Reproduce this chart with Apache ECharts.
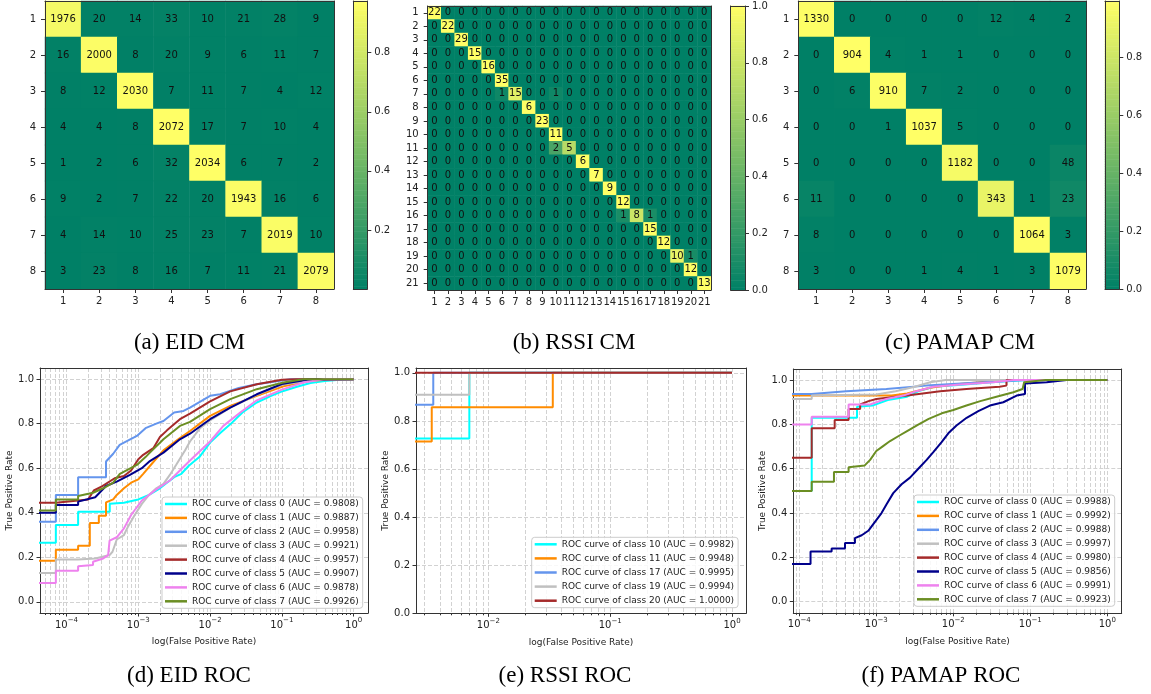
<!DOCTYPE html>
<html><head><meta charset="utf-8">
<script src="https://cdn.jsdelivr.net/npm/echarts@6/dist/echarts.min.js"></script>
<style>html,body{margin:0;padding:0;background:#fff}#c{width:1151px;height:694px}</style>
</head><body><div id="c"></div>
<script>
// ---------------- data ----------------
const EID_LABELS = ['1','2','3','4','5','6','7','8'];
const EID_CM = [
  [1976,20,14,33,10,21,28,9],
  [16,2000,8,20,9,6,11,7],
  [8,12,2030,7,11,7,4,12],
  [4,4,8,2072,17,7,10,4],
  [1,2,6,32,2034,6,7,2],
  [9,2,7,22,20,1943,16,6],
  [4,14,10,25,23,7,2019,10],
  [3,23,8,16,7,11,21,2079]
];
const RSSI_LABELS = ['1','2','3','4','5','6','7','8','9','10','11','12','13','14','15','16','17','18','19','20','21'];
const RSSI_CM = [
  [22,0,0,0,0,0,0, 0,0,0,0,0,0,0, 0,0,0,0,0,0,0],
  [0,22,0,0,0,0,0, 0,0,0,0,0,0,0, 0,0,0,0,0,0,0],
  [0,0,29,0,0,0,0, 0,0,0,0,0,0,0, 0,0,0,0,0,0,0],
  [0,0,0,15,0,0,0, 0,0,0,0,0,0,0, 0,0,0,0,0,0,0],
  [0,0,0,0,16,0,0, 0,0,0,0,0,0,0, 0,0,0,0,0,0,0],
  [0,0,0,0,0,35,0, 0,0,0,0,0,0,0, 0,0,0,0,0,0,0],
  [0,0,0,0,0,1,15, 0,0,1,0,0,0,0, 0,0,0,0,0,0,0],
  [0,0,0,0,0,0,0, 6,0,0,0,0,0,0, 0,0,0,0,0,0,0],
  [0,0,0,0,0,0,0, 0,23,0,0,0,0,0, 0,0,0,0,0,0,0],
  [0,0,0,0,0,0,0, 0,0,11,0,0,0,0, 0,0,0,0,0,0,0],
  [0,0,0,0,0,0,0, 0,0,2,5,0,0,0, 0,0,0,0,0,0,0],
  [0,0,0,0,0,0,0, 0,0,0,0,6,0,0, 0,0,0,0,0,0,0],
  [0,0,0,0,0,0,0, 0,0,0,0,0,7,0, 0,0,0,0,0,0,0],
  [0,0,0,0,0,0,0, 0,0,0,0,0,0,9, 0,0,0,0,0,0,0],
  [0,0,0,0,0,0,0, 0,0,0,0,0,0,0, 12,0,0,0,0,0,0],
  [0,0,0,0,0,0,0, 0,0,0,0,0,0,0, 1,8,1,0,0,0,0],
  [0,0,0,0,0,0,0, 0,0,0,0,0,0,0, 0,0,15,0,0,0,0],
  [0,0,0,0,0,0,0, 0,0,0,0,0,0,0, 0,0,0,12,0,0,0],
  [0,0,0,0,0,0,0, 0,0,0,0,0,0,0, 0,0,0,0,10,1,0],
  [0,0,0,0,0,0,0, 0,0,0,0,0,0,0, 0,0,0,0,0,12,0],
  [0,0,0,0,0,0,0, 0,0,0,0,0,0,0, 0,0,0,0,0,0,13]
];
const PAMAP_LABELS = ['1','2','3','4','5','6','7','8'];
const PAMAP_CM = [
  [1330,0,0,0,0,12,4,2],
  [0,904,4,1,1,0,0,0],
  [0,6,910,7,2,0,0,0],
  [0,0,1,1037,5,0,0,0],
  [0,0,0,0,1182,0,0,48],
  [11,0,0,0,0,343,1,23],
  [8,0,0,0,0,0,1064,3],
  [3,0,0,1,4,1,3,1079]
];
const COLORBAR_TICKS = [0, 0.2, 0.4, 0.6, 0.8, 1.0];
const TPR_TICKS = [0, 0.2, 0.4, 0.6, 0.8, 1.0];
const FPR_MAJOR = [1e-5, 1e-4, 1e-3, 1e-2, 1e-1, 1];
const FPR_MINOR = [
  2e-5,3e-5,4e-5,5e-5,6e-5,7e-5,8e-5,9e-5,
  2e-4,3e-4,4e-4,5e-4,6e-4,7e-4,8e-4,9e-4,
  2e-3,3e-3,4e-3,5e-3,6e-3,7e-3,8e-3,9e-3,
  0.02,0.03,0.04,0.05,0.06,0.07,0.08,0.09,
  0.2,0.3,0.4,0.5,0.6,0.7,0.8,0.9
];

// ROC curves: [false positive rate, true positive rate]; 1e-5 stands for fpr = 0 (clipped on the log axis)
const eidNames = [
  'ROC curve of class 0 (AUC = 0.9808)','ROC curve of class 1 (AUC = 0.9887)',
  'ROC curve of class 2 (AUC = 0.9958)','ROC curve of class 3 (AUC = 0.9921)',
  'ROC curve of class 4 (AUC = 0.9957)','ROC curve of class 5 (AUC = 0.9907)',
  'ROC curve of class 6 (AUC = 0.9878)','ROC curve of class 7 (AUC = 0.9926)'
];
const eidClass0 = [[1e-5,0.265],[7.1e-5,0.265],[7.1e-5,0.345],[1.45e-4,0.345],[1.45e-4,0.405],[4.0e-4,0.405],[4.0e-4,0.44],[6.3e-4,0.445],[1.0e-3,0.46],[1.41e-3,0.48],[2.0e-3,0.51],[2.51e-3,0.535],[3.16e-3,0.56],[3.98e-3,0.575],[5.01e-3,0.61],[7.08e-3,0.65],[0.01,0.715],[0.0141,0.76],[0.0191,0.797],[0.0282,0.85],[0.0447,0.895],[0.0708,0.925],[0.105,0.947],[0.158,0.965],[0.25,0.983],[0.398,0.992],[0.582,0.996],[1,1]];
const eidClass1 = [[1e-5,0.185],[7.1e-5,0.185],[7.1e-5,0.234],[1.45e-4,0.234],[1.45e-4,0.252],[2.11e-4,0.252],[2.11e-4,0.354],[2.82e-4,0.354],[2.82e-4,0.387],[3.55e-4,0.387],[3.55e-4,0.447],[4.47e-4,0.46],[5.01e-4,0.48],[6.31e-4,0.51],[7.94e-4,0.535],[1.0e-3,0.55],[1.17e-3,0.575],[1.45e-3,0.61],[2.24e-3,0.68],[3.8e-3,0.735],[5.25e-3,0.767],[0.01,0.835],[0.0191,0.88],[0.0447,0.925],[0.105,0.968],[0.25,0.993],[0.5,0.998],[1,1]];
const eidClass2 = [[1e-5,0.36],[7.1e-5,0.36],[7.1e-5,0.48],[1.45e-4,0.48],[1.45e-4,0.56],[3.55e-4,0.56],[3.55e-4,0.63],[4.47e-4,0.665],[5.5e-4,0.705],[9.55e-4,0.745],[1.26e-3,0.78],[1.78e-3,0.80],[2.24e-3,0.812],[3.16e-3,0.85],[4.27e-3,0.857],[5.25e-3,0.872],[0.01,0.925],[0.0138,0.932],[0.0251,0.96],[0.0447,0.977],[0.13,0.999],[1,1]];
const eidClass3 = [[1e-5,0.13],[7.1e-5,0.13],[7.1e-5,0.19],[1.45e-4,0.19],[2.51e-4,0.195],[3.98e-4,0.21],[4.37e-4,0.225],[5.01e-4,0.28],[6.31e-4,0.30],[7.24e-4,0.34],[8.91e-4,0.39],[1.12e-3,0.44],[1.41e-3,0.48],[1.78e-3,0.51],[2.24e-3,0.53],[2.75e-3,0.57],[3.39e-3,0.617],[4.47e-3,0.68],[5.25e-3,0.72],[7.24e-3,0.78],[0.01,0.815],[0.0191,0.872],[0.0447,0.93],[0.1,0.975],[0.25,0.995],[1,1]];
const eidClass4 = [[1e-5,0.445],[7.1e-5,0.445],[7.1e-5,0.45],[1.45e-4,0.455],[2.0e-4,0.46],[2.4e-4,0.50],[3.16e-4,0.52],[4.68e-4,0.555],[6.31e-4,0.565],[7.94e-4,0.59],[1.0e-3,0.64],[1.17e-3,0.66],[1.62e-3,0.69],[2.0e-3,0.74],[2.51e-3,0.77],[3.8e-3,0.82],[5.25e-3,0.845],[0.01,0.90],[0.0191,0.945],[0.0447,0.977],[0.1,0.997],[0.158,1.0],[1,1]];
const eidClass5 = [[1e-5,0.40],[7.1e-5,0.40],[7.1e-5,0.435],[1.45e-4,0.435],[1.45e-4,0.45],[2.51e-4,0.47],[3.55e-4,0.52],[5.01e-4,0.54],[7.64e-4,0.57],[1.12e-3,0.60],[1.45e-3,0.632],[2.24e-3,0.67],[3.8e-3,0.73],[5.25e-3,0.755],[0.01,0.82],[0.0191,0.872],[0.0447,0.932],[0.1,0.978],[0.224,0.997],[1,1]];
const eidClass6 = [[1e-5,0.085],[7.1e-5,0.085],[7.1e-5,0.14],[1.45e-4,0.14],[1.45e-4,0.16],[2.34e-4,0.165],[2.34e-4,0.18],[3.24e-4,0.195],[3.8e-4,0.21],[3.98e-4,0.275],[5.01e-4,0.29],[6.31e-4,0.33],[7.94e-4,0.39],[1.12e-3,0.455],[1.78e-3,0.505],[2.75e-3,0.545],[5.25e-3,0.635],[0.01,0.72],[0.0153,0.79],[0.0263,0.85],[0.0447,0.905],[0.1,0.953],[0.2,0.985],[0.38,0.999],[1,1]];
const eidClass7 = [[1e-5,0.41],[7.1e-5,0.41],[7.1e-5,0.46],[1.45e-4,0.46],[1.45e-4,0.475],[2.34e-4,0.49],[3.24e-4,0.51],[4.47e-4,0.535],[5.53e-4,0.575],[9.55e-4,0.615],[1.26e-3,0.65],[1.45e-3,0.67],[2.24e-3,0.73],[3.8e-3,0.79],[5.25e-3,0.808],[0.01,0.865],[0.0191,0.91],[0.0447,0.955],[0.105,0.985],[0.2,0.999],[1,1]];

const rssiNames = [
  'ROC curve of class 10 (AUC = 0.9982)','ROC curve of class 11 (AUC = 0.9948)',
  'ROC curve of class 17 (AUC = 0.9995)','ROC curve of class 19 (AUC = 0.9994)',
  'ROC curve of class 20 (AUC = 1.0000)'
];
const rssiClass10 = [[1e-5,0.727],[0.00698,0.727],[0.00698,1.0],[1,1]];
const rssiClass11 = [[1e-5,0.714],[0.00343,0.714],[0.00343,0.857],[0.0338,0.857],[0.0338,1.0],[1,1]];
const rssiClass17 = [[1e-5,0.867],[0.00353,0.867],[0.00353,1.0],[1,1]];
const rssiClass19 = [[1e-5,0.909],[0.00698,0.909],[0.00698,1.0],[1,1]];
const rssiClass20 = [[1e-5,1.0],[1,1]];

const pamapNames = [
  'ROC curve of class 0 (AUC = 0.9988)','ROC curve of class 1 (AUC = 0.9992)',
  'ROC curve of class 2 (AUC = 0.9988)','ROC curve of class 3 (AUC = 0.9997)',
  'ROC curve of class 4 (AUC = 0.9980)','ROC curve of class 5 (AUC = 0.9856)',
  'ROC curve of class 6 (AUC = 0.9991)','ROC curve of class 7 (AUC = 0.9923)'
];
const pamapClass0 = [[1e-5,0.50],[1.45e-4,0.50],[1.45e-4,0.83],[5.62e-4,0.83],[5.62e-4,0.88],[8.91e-4,0.885],[1.41e-3,0.91],[2.51e-3,0.925],[3.55e-3,0.95],[5.62e-3,0.97],[0.0141,0.98],[0.0316,0.99],[0.0891,1.0],[1,1]];
const pamapClass1 = [[1e-5,0.93],[1.58e-3,0.93],[2.51e-3,0.94],[5.01e-3,0.965],[0.01,0.98],[0.0316,0.995],[0.0398,1.0],[1,1]];
const pamapClass2 = [[1e-5,0.937],[1.45e-4,0.937],[1.45e-4,0.944],[4.07e-4,0.95],[1.35e-3,0.96],[4.47e-3,0.975],[0.0126,0.985],[0.0316,0.992],[0.0891,1.0],[1,1]];
const pamapClass3 = [[1e-5,0.915],[1.45e-4,0.915],[1.45e-4,0.93],[1.0e-3,0.935],[1.78e-3,0.95],[3.16e-3,0.97],[5.01e-3,0.99],[7.94e-3,1.0],[1,1]];
const pamapClass4 = [[1e-5,0.65],[1.45e-4,0.65],[1.45e-4,0.783],[2.88e-4,0.783],[2.88e-4,0.82],[4.37e-4,0.82],[4.37e-4,0.87],[6.17e-4,0.87],[6.17e-4,0.89],[7.94e-4,0.905],[1.0e-3,0.915],[2.51e-3,0.93],[6.76e-3,0.95],[0.0148,0.96],[0.0398,0.97],[0.049,0.975],[0.049,1.0],[1,1]];
const pamapClass5 = [[1e-5,0.17],[1.4e-4,0.17],[1.4e-4,0.227],[2.63e-4,0.227],[2.63e-4,0.24],[3.92e-4,0.24],[3.92e-4,0.265],[5.28e-4,0.265],[5.28e-4,0.287],[6.46e-4,0.30],[7.87e-4,0.32],[9.14e-4,0.35],[1.17e-3,0.40],[1.36e-3,0.44],[1.66e-3,0.49],[2.13e-3,0.53],[2.74e-3,0.56],[3.51e-3,0.60],[4.51e-3,0.64],[5.5e-3,0.675],[7.05e-3,0.72],[8.61e-3,0.76],[0.011,0.795],[0.0149,0.83],[0.0211,0.86],[0.0299,0.885],[0.0446,0.90],[0.0665,0.93],[0.0853,0.937],[0.0853,0.985],[0.163,0.99],[0.296,1.0],[1,1]];
const pamapClass6 = [[1e-5,0.80],[1.45e-4,0.80],[1.45e-4,0.835],[4.37e-4,0.835],[4.37e-4,0.89],[8.32e-4,0.89],[1.0e-3,0.90],[1.35e-3,0.915],[2.24e-3,0.93],[3.31e-3,0.95],[5.5e-3,0.97],[0.0123,0.98],[0.0331,0.99],[0.0603,1.0],[1,1]];
const pamapClass7 = [[1e-5,0.50],[1.45e-4,0.50],[1.45e-4,0.541],[2.82e-4,0.541],[2.82e-4,0.585],[4.37e-4,0.585],[4.37e-4,0.607],[7.08e-4,0.615],[8.32e-4,0.64],[1.0e-3,0.68],[1.2e-3,0.70],[1.51e-3,0.725],[2.0e-3,0.75],[2.51e-3,0.77],[3.55e-3,0.80],[4.79e-3,0.825],[7.08e-3,0.85],[0.01,0.865],[0.0148,0.885],[0.0224,0.905],[0.0363,0.925],[0.0603,0.945],[0.0794,0.96],[0.0832,0.99],[0.158,1.0],[1,1]];

const ROC_COLORS = ['#00ffff','#ff8c00','#6495ed','#c0c0c0','#a52a2a','#00008b','#ee82ee','#6b8e23'];
const CAPTIONS = ['(a) EID CM','(b) RSSI CM','(c) PAMAP CM','(d) EID ROC','(e) RSSI ROC','(f) PAMAP ROC'];

// ---------------- styling ----------------
const FONT = 'DejaVu Sans';
const SERIF = 'Liberation Serif';
const SUMMER = ['#008066', '#ffff66'];
const INK = '#222';
const SPINE = '#333';
const GRIDC = '#d2d2d2';
const CB_STEPS = 120;

const grids = [], xAxes = [], yAxes = [], series = [], visualMaps = [], legends = [];

function addGrid(b) { grids.push(Object.assign({outerBoundsMode: 'none', containLabel: false}, b)); return grids.length - 1; }
function spineAxis(gi, pos, z) {
  return {gridIndex: gi, type: 'value', position: pos, min: 0, max: 1, z: z, silent: true,
    axisLine: {show: true, onZero: false, lineStyle: {color: SPINE, width: 1}},
    axisTick: {show: false}, axisLabel: {show: false}, splitLine: {show: false}};
}

function addConfusion(box, cbBox, labels, cm) {
  const norm = cm.map(row => { const s = row.reduce((a, b) => a + b, 0); return row.map(v => v / s); });
  let vmin = Infinity, vmax = -Infinity;
  norm.forEach(r => r.forEach(v => { vmin = Math.min(vmin, v); vmax = Math.max(vmax, v); }));
  const data = [];
  cm.forEach((row, r) => row.forEach((v, c) => data.push([c, r, norm[r][c], v])));
  const lab = {interval: 0, fontSize: 10, color: INK, fontFamily: FONT};
  const gi = addGrid(box);
  const xi = xAxes.length;
  xAxes.push({gridIndex: gi, type: 'category', data: labels, position: 'bottom', z: 5, silent: true,
    axisLine: {show: true, onZero: false, lineStyle: {color: SPINE, width: 1}},
    axisTick: {show: true, alignWithLabel: true, length: 4, lineStyle: {color: SPINE}},
    axisLabel: Object.assign({margin: 7}, lab), splitLine: {show: false}});
  xAxes.push(spineAxis(gi, 'top', 5));
  const yi = yAxes.length;
  yAxes.push({gridIndex: gi, type: 'category', data: labels, inverse: true, position: 'left', z: 5, silent: true,
    axisLine: {show: true, onZero: false, lineStyle: {color: SPINE, width: 1}},
    axisTick: {show: true, alignWithLabel: true, length: 4, lineStyle: {color: SPINE}},
    axisLabel: Object.assign({margin: 9}, lab), splitLine: {show: false}});
  yAxes.push(spineAxis(gi, 'right', 5));
  const si = series.length;
  series.push({type: 'heatmap', xAxisIndex: xi, yAxisIndex: yi, data: data, animation: false,
    emphasis: {disabled: true}, itemStyle: {borderWidth: 0},
    label: {show: true, formatter: p => String(p.data[3]), color: '#111', fontSize: 10, fontFamily: FONT}});

  const cg = addGrid(cbBox);
  const cxi = xAxes.length;
  xAxes.push({gridIndex: cg, type: 'category', data: [''], position: 'bottom', z: 5, silent: true,
    axisLine: {show: true, onZero: false, lineStyle: {color: SPINE, width: 1}},
    axisTick: {show: false}, axisLabel: {show: false}, splitLine: {show: false}});
  xAxes.push(spineAxis(cg, 'top', 5));
  const bands = [];
  for (let i = 0; i < CB_STEPS; i++) bands.push(i);
  const cyi = yAxes.length;
  yAxes.push({gridIndex: cg, type: 'category', data: bands, position: 'left', z: 5, silent: true,
    axisLine: {show: true, onZero: false, lineStyle: {color: SPINE, width: 1}},
    axisTick: {show: false}, axisLabel: {show: false}, splitLine: {show: false}});
  yAxes.push({gridIndex: cg, type: 'value', position: 'right', min: vmin, max: vmax, z: 5, silent: true,
    axisLine: {show: true, onZero: false, lineStyle: {color: SPINE, width: 1}},
    axisTick: {show: true, length: 4, customValues: COLORBAR_TICKS, lineStyle: {color: SPINE}},
    axisLabel: {show: true, customValues: COLORBAR_TICKS, formatter: v => v.toFixed(1), margin: 7, fontSize: 10, color: INK, fontFamily: FONT},
    splitLine: {show: false}});
  const csi = series.length;
  series.push({type: 'heatmap', xAxisIndex: cxi, yAxisIndex: cyi, animation: false, emphasis: {disabled: true},
    data: bands.map(i => [0, i, vmin + (i + 0.5) * (vmax - vmin) / CB_STEPS])});
  visualMaps.push({type: 'continuous', show: false, min: vmin, max: vmax, dimension: 2,
    seriesIndex: [si, csi], inRange: {color: SUMMER}});
}

function fmtPow(v) {
  const e = Math.round(Math.log10(v));
  return '{b|10}{s|' + (e < 0 ? '\u2212' + (-e) : String(e)) + '}';
}

function addRoc(box, xr, yr, curves, names, yNameGap, legendPos, legendGap) {
  const gi = addGrid(box);
  const xi = xAxes.length;
  const dash = {color: GRIDC, width: 1, type: [4, 2]};
  xAxes.push({gridIndex: gi, type: 'log', logBase: 10, min: xr[0], max: xr[1], position: 'bottom', silent: true,
    name: 'log(False Positive Rate)', nameLocation: 'middle', nameGap: 24.5,
    nameTextStyle: {fontSize: 9, color: INK, fontFamily: FONT},
    axisLine: {show: true, onZero: false, lineStyle: {color: SPINE, width: 1}},
    axisTick: {show: true, length: 3.5, customValues: FPR_MAJOR, lineStyle: {color: SPINE}},
    axisLabel: {show: true, customValues: FPR_MAJOR, formatter: fmtPow, margin: 4, color: INK, fontFamily: FONT,
      rich: {b: {fontSize: 10, lineHeight: 16, color: INK, fontFamily: FONT},
             s: {fontSize: 7, lineHeight: 9, verticalAlign: 'top', color: INK, fontFamily: FONT}}},
    splitLine: {show: true, lineStyle: dash}, minorTick: {show: false}, minorSplitLine: {show: false}});
  xAxes.push({gridIndex: gi, type: 'log', logBase: 10, min: xr[0], max: xr[1], position: 'bottom', silent: true,
    axisLine: {show: false, onZero: false},
    axisTick: {show: true, length: 2, customValues: FPR_MINOR, lineStyle: {color: SPINE}},
    axisLabel: {show: false}, splitLine: {show: true, lineStyle: dash}});
  xAxes.push(spineAxis(gi, 'top', 0));
  const yi = yAxes.length;
  yAxes.push({gridIndex: gi, type: 'value', min: yr[0], max: yr[1], position: 'left', silent: true,
    name: 'True Positive Rate', nameLocation: 'middle', nameGap: yNameGap, nameRotate: 90,
    nameTextStyle: {fontSize: 9, color: INK, fontFamily: FONT},
    axisLine: {show: true, onZero: false, lineStyle: {color: SPINE, width: 1}},
    axisTick: {show: true, length: 3.5, customValues: TPR_TICKS, lineStyle: {color: SPINE}},
    axisLabel: {show: true, customValues: TPR_TICKS, formatter: v => v.toFixed(1), margin: 6, fontSize: 10, color: INK, fontFamily: FONT},
    splitLine: {show: true, lineStyle: dash}});
  yAxes.push(spineAxis(gi, 'right', 0));
  curves.forEach((c, k) => series.push({type: 'line', name: names[k], xAxisIndex: xi, yAxisIndex: yi, data: c,
    showSymbol: false, symbol: 'none', clip: true, animation: false, silent: true,
    lineStyle: {width: 2, color: ROC_COLORS[k]}, itemStyle: {color: ROC_COLORS[k]}}));
  legends.push({data: names, orient: 'vertical', left: legendPos[0], top: legendPos[1], selectedMode: false,
    icon: 'rect', itemWidth: 22, itemHeight: 2.5, itemGap: legendGap, padding: [1, 4, 1, 3],
    backgroundColor: 'rgba(255,255,255,0.85)', borderColor: '#cccccc', borderWidth: 1, borderRadius: 3,
    textStyle: {fontSize: 9, lineHeight: 12, color: INK, fontFamily: FONT}});
}

// ---------------- build ----------------
addConfusion({left: 45, top: 1, width: 289, height: 288}, {left: 353.3, top: 1, width: 14, height: 288}, EID_LABELS, EID_CM);
addConfusion({left: 427.7, top: 6, width: 283.3, height: 284}, {left: 730.7, top: 6, width: 14.3, height: 284}, RSSI_LABELS, RSSI_CM);
addConfusion({left: 798.3, top: 1, width: 287.7, height: 288}, {left: 1105, top: 1, width: 14.3, height: 288}, PAMAP_LABELS, PAMAP_CM);

addRoc({left: 40, top: 368, width: 328, height: 245}, [4.27e-5, 1.585], [-0.05, 1.05],
  [eidClass0, eidClass1, eidClass2, eidClass3, eidClass4, eidClass5, eidClass6, eidClass7], eidNames, 24.5, [162, 497], 1.9);
addRoc({left: 416, top: 368, width: 330, height: 245.3}, [0.002547, 1.303], [0, 1.02],
  [rssiClass10, rssiClass11, rssiClass17, rssiClass19, rssiClass20], rssiNames, 22.5, [531.7, 537.3], 2.1);
addRoc({left: 793.3, top: 369, width: 328.4, height: 243.8}, [8.36e-5, 1.538], [-0.05, 1.05],
  [pamapClass0, pamapClass1, pamapClass2, pamapClass3, pamapClass4, pamapClass5, pamapClass6, pamapClass7], pamapNames, 24.5, [914, 495], 1.9);

const capCenters = [[189.5, 331.5], [574, 331.5], [960, 331.5], [189, 664.5], [565, 664.5], [941, 664.5]];
const titles = CAPTIONS.map((t, i) => ({text: t, left: capCenters[i][0], top: capCenters[i][1], textAlign: 'center', padding: 0,
  textStyle: {fontFamily: SERIF, fontSize: 23, fontWeight: 'normal', color: '#000'}}));

const chart = echarts.init(document.getElementById('c'), null, {renderer: 'canvas'});
chart.setOption({
  animation: false,
  backgroundColor: '#ffffff',
  title: titles,
  grid: grids,
  xAxis: xAxes,
  yAxis: yAxes,
  visualMap: visualMaps,
  legend: legends,
  series: series
});
</script></body></html>
